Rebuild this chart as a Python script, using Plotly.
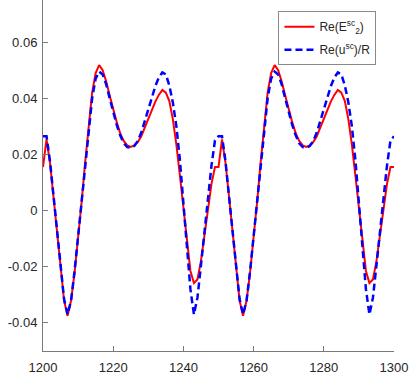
import plotly.graph_objects as go

x_vals = list(range(1200, 1301))

re_E2_sc = [
    0.0155, 0.0254, 0.0170, 0.0050, -0.0080, -0.0200, -0.0320, -0.0375, -0.0320, -0.0220,
    -0.0100, 0.0030, 0.0170, 0.0300, 0.0420, 0.0490, 0.0518, 0.0500, 0.0460, 0.0410,
    0.0360, 0.0315, 0.0275, 0.0248, 0.0232, 0.0227, 0.0232, 0.0244, 0.0265, 0.0297,
    0.0330, 0.0360, 0.0388, 0.0412, 0.0430, 0.0420, 0.0390, 0.0325, 0.0235, 0.0125,
    0.0005, -0.0120, -0.0215, -0.0258, -0.0245, -0.0180, -0.0090, 0.0000, 0.0095, 0.0155,
    0.0155, 0.0254, 0.0170, 0.0050, -0.0080, -0.0200, -0.0320, -0.0375, -0.0320, -0.0220,
    -0.0100, 0.0030, 0.0170, 0.0300, 0.0420, 0.0490, 0.0518, 0.0500, 0.0460, 0.0410,
    0.0360, 0.0315, 0.0275, 0.0248, 0.0232, 0.0227, 0.0232, 0.0244, 0.0265, 0.0297,
    0.0330, 0.0360, 0.0388, 0.0412, 0.0430, 0.0420, 0.0390, 0.0325, 0.0235, 0.0125,
    0.0005, -0.0120, -0.0215, -0.0258, -0.0245, -0.0180, -0.0090, 0.0000, 0.0095, 0.0155,
    0.0155,
]

re_u_sc_over_R = [
    0.0265, 0.0265, 0.0175, 0.0050, -0.0080, -0.0200, -0.0315, -0.0370, -0.0320, -0.0215,
    -0.0095, 0.0030, 0.0165, 0.0290, 0.0400, 0.0470, 0.0495, 0.0485, 0.0450, 0.0400,
    0.0350, 0.0305, 0.0268, 0.0240, 0.0226, 0.0224, 0.0230, 0.0248, 0.0278, 0.0318,
    0.0362, 0.0405, 0.0443, 0.0474, 0.0492, 0.0485, 0.0445, 0.0385, 0.0300, 0.0180,
    0.0030, -0.0130, -0.0280, -0.0370, -0.0310, -0.0195, -0.0075, 0.0040, 0.0160, 0.0250,
    0.0265, 0.0265, 0.0175, 0.0050, -0.0080, -0.0200, -0.0315, -0.0370, -0.0320, -0.0215,
    -0.0095, 0.0030, 0.0165, 0.0290, 0.0400, 0.0470, 0.0495, 0.0485, 0.0450, 0.0400,
    0.0350, 0.0305, 0.0268, 0.0240, 0.0226, 0.0224, 0.0230, 0.0248, 0.0278, 0.0318,
    0.0362, 0.0405, 0.0443, 0.0474, 0.0492, 0.0485, 0.0445, 0.0385, 0.0300, 0.0180,
    0.0030, -0.0130, -0.0280, -0.0370, -0.0310, -0.0195, -0.0075, 0.0040, 0.0160, 0.0250,
    0.0265,
]

x_ticks = [1200, 1220, 1240, 1260, 1280, 1300]
x_tick_labels = ["1200", "1220", "1240", "1260", "1280", "1300"]
y_ticks = [-0.04, -0.02, 0, 0.02, 0.04, 0.06]
y_tick_labels = ["-0.04", "-0.02", "0", "0.02", "0.04", "0.06"]

fig = go.Figure()
fig.add_trace(go.Scatter(
    x=x_vals, y=re_E2_sc, mode="lines",
    name="Re(E<sup>sc</sup><sub>2</sub>)", legendgroup="a",
    line=dict(color="#ff0000", width=2),
))
fig.add_trace(go.Scatter(
    x=x_vals, y=re_u_sc_over_R, mode="lines",
    name="Re(u<sup>sc</sup>)/R", legendgroup="b",
    line=dict(color="#0000ff", width=2.5, dash="7px,4px"),
))

axis_common = dict(
    showgrid=False, zeroline=False, showline=True, linecolor="#7a7a7a", linewidth=1,
    ticks="inside", ticklen=5, tickcolor="#7a7a7a", tickwidth=1,
    tickfont=dict(family="Liberation Sans, Arial, sans-serif", size=13, color="#262626"),
    mirror=False,
)

fig.update_layout(
    width=413, height=375,
    margin=dict(l=43, r=19, t=0, b=22),
    paper_bgcolor="white", plot_bgcolor="white",
    xaxis=dict(range=[1200, 1300], tickvals=x_ticks, ticktext=x_tick_labels,
               ticklabelstandoff=4, **axis_common),
    yaxis=dict(range=[-0.05, 0.075], tickvals=y_ticks, ticktext=y_tick_labels,
               ticklabelstandoff=2, **axis_common),
    legend=dict(
        x=0.95, y=0.968, xanchor="right", yanchor="top",
        bgcolor="white", bordercolor="#8a8a8a", borderwidth=1,
        font=dict(family="Liberation Sans, Arial, sans-serif", size=12, color="#262626"),
        itemwidth=30, tracegroupgap=4,
    ),
    showlegend=True,
)

fig.write_html("out.html", config={"displayModeBar": False},
               post_script="document.body.style.margin='0px';document.body.style.padding='0px';")
